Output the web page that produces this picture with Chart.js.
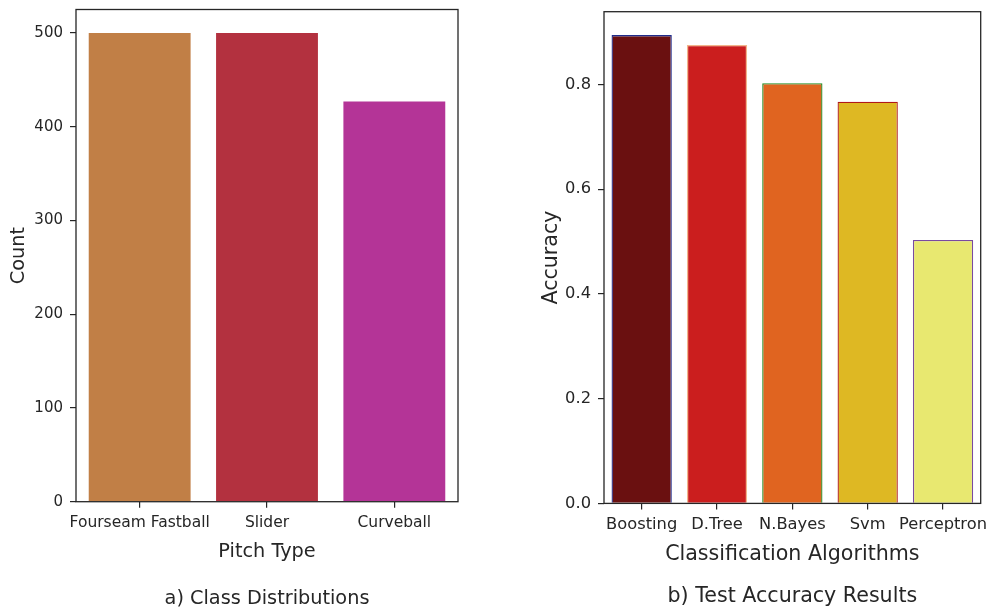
<!DOCTYPE html>
<html>
<head>
<meta charset="utf-8">
<script src="https://cdn.jsdelivr.net/npm/chart.js@4/dist/chart.umd.min.js"></script>
<style>
  html, body { margin: 0; padding: 0; background: #fff; }
  #wrap { position: relative; width: 994px; height: 613px; overflow: hidden; }
  #left { position: absolute; left: 0; top: 0; }
  #right { position: absolute; left: 500px; top: 0; }
</style>
</head>
<body>
<div id="wrap">
  <canvas id="left" width="500" height="613"></canvas>
  <canvas id="right" width="494" height="613"></canvas>
</div>
<script>
// Panel a: pitch class counts
const pitchTypes = ['Fourseam Fastball', 'Slider', 'Curveball'];
const pitchCounts = [500, 500, 427];
const pitchColors = ['#C17F46', '#B3313F', '#B43497'];
const countTicks = [0, 100, 200, 300, 400, 500];

// Panel b: test accuracy per algorithm
const algorithms = ['Boosting', 'D.Tree', 'N.Bayes', 'Svm', 'Perceptron'];
const accuracies = [0.894, 0.875, 0.802, 0.767, 0.503];
const algoColors = ['#6A1010', '#CB1E1E', '#E06420', '#DEB823', '#E8E870'];
const algoEdges = ['#1F2C8C', '#F2B58A', '#1E8A1E', '#B01818', '#7A4AA0'];
const accTicks = [0.0, 0.2, 0.4, 0.6, 0.8];

const INK = '#262626';
const FONT = 'DejaVu Sans';

// Draw a full box around the plotting area (all four spines)
const spines = {
  id: 'spines',
  afterDatasetsDraw(chart) {
    const { ctx, chartArea: a } = chart;
    ctx.save();
    ctx.strokeStyle = INK;
    ctx.lineWidth = 1.3;
    ctx.strokeRect(a.left, a.top, a.right - a.left, a.bottom - a.top);
    ctx.restore();
  }
};

// Panel caption, centred under the plotting area
const caption = {
  id: 'caption',
  afterDraw(chart, args, opts) {
    const { ctx, chartArea: a } = chart;
    ctx.save();
    ctx.fillStyle = INK;
    ctx.font = `${opts.size}px "${FONT}"`;
    ctx.textAlign = 'center';
    ctx.textBaseline = 'middle';
    ctx.fillText(opts.text, (a.left + a.right) / 2, opts.y);
    ctx.restore();
  }
};

// Keep tick-label overhang from shifting the plotting area
function noOverhang(scale) {
  scale.paddingTop = 0;
  scale.paddingBottom = 0;
  scale.paddingLeft = 0;
  scale.paddingRight = 0;
}

function makePanel(el, cfg) {
  return new Chart(el, {
    type: 'bar',
    data: {
      labels: cfg.labels,
      datasets: [{
        data: cfg.values,
        backgroundColor: cfg.colors,
        borderColor: cfg.edges || cfg.colors,
        borderWidth: cfg.edges ? 1.3 : 0,
        categoryPercentage: 0.8,
        barPercentage: 1.0
      }]
    },
    options: {
      responsive: false,
      animation: false,
      devicePixelRatio: 1,
      layout: { padding: cfg.padding },
      plugins: {
        legend: { display: false },
        tooltip: { enabled: false },
        title: { display: false },
        caption: { text: cfg.caption, size: cfg.titleSize, y: cfg.captionY }
      },
      scales: {
        x: {
          grid: { display: true, offset: false, drawOnChartArea: false, drawTicks: true, tickLength: 6, color: INK, lineWidth: 1.2 },
          border: { display: false },
          ticks: {
            color: INK, padding: cfg.xTickPad, maxRotation: 0, minRotation: 0, autoSkip: false,
            font: { family: FONT, size: cfg.tickSize }
          },
          title: {
            display: true, text: cfg.xTitle, color: INK,
            font: { family: FONT, size: cfg.titleSize, lineHeight: 1.2 },
            padding: { top: 0, bottom: cfg.xTitlePad }
          },
          afterFit(scale) { scale.height = cfg.xHeight; noOverhang(scale); }
        },
        y: {
          min: 0,
          max: cfg.yMax,
          grid: { display: true, drawOnChartArea: false, drawTicks: true, tickLength: 6, color: INK, lineWidth: 1.2 },
          border: { display: false },
          afterBuildTicks(scale) { scale.ticks = cfg.yTicks.map(v => ({ value: v })); },
          ticks: {
            color: INK, padding: cfg.yTickPad,
            font: { family: FONT, size: cfg.yTickSize },
            callback: cfg.yFormat
          },
          title: {
            display: true, text: cfg.yTitle, color: INK,
            font: { family: FONT, size: cfg.titleSize, lineHeight: 1.2 },
            padding: { top: cfg.yTitlePad, bottom: 0 }
          },
          afterFit(scale) { scale.width = cfg.yWidth; noOverhang(scale); }
        }
      }
    },
    plugins: [spines, caption]
  });
}

makePanel(document.getElementById('left'), {
  labels: pitchTypes,
  values: pitchCounts,
  colors: pitchColors,
  caption: 'a) Class Distributions',
  captionY: 598.5,
  xTitle: 'Pitch Type',
  yTitle: 'Count',
  yMax: 525,
  yTicks: countTicks,
  yFormat: v => String(v),
  padding: { top: 9.5, right: 42, left: 0, bottom: 26.3 },
  titleSize: 19.3,
  tickSize: 15.5,
  yTickSize: 15,
  xHeight: 85,
  xTickPad: 6,
  xTitlePad: 23,
  yTickPad: 7,
  yTitlePad: 7,
  yWidth: 76
});

makePanel(document.getElementById('right'), {
  labels: algorithms,
  values: accuracies,
  colors: algoColors,
  edges: algoEdges,
  caption: 'b) Test Accuracy Results',
  captionY: 597,
  xTitle: 'Classification Algorithms',
  yTitle: 'Accuracy',
  yMax: 0.9387,
  yTicks: accTicks,
  yFormat: v => Number(v).toFixed(1),
  padding: { top: 11.7, right: 13.3, left: 0, bottom: 28.6 },
  titleSize: 20.6,
  tickSize: 16.3,
  yTickSize: 16.3,
  xHeight: 81,
  xTickPad: 6,
  xTitlePad: 17.5,
  yTickPad: 7,
  yTitlePad: 39,
  yWidth: 104
});
</script>
</body>
</html>
